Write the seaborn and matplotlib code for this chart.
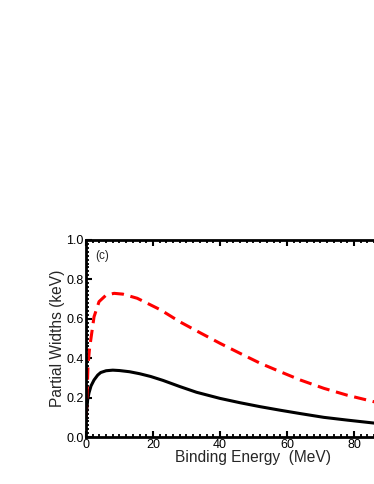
import pandas as pd
import matplotlib.pyplot as plt
import seaborn as sns
from matplotlib.ticker import MultipleLocator, FuncFormatter

# values
x_black = [0, 0.2, 0.5, 0.9, 1.5, 2.4, 3.5, 4.4, 6, 8, 10, 13, 16, 19.3, 23, 28, 33,
           40, 46, 52, 58, 64, 71, 78, 86, 100]
y_black = [0.10, 0.13, 0.19, 0.225, 0.26, 0.29, 0.315, 0.328, 0.337, 0.340, 0.338,
           0.332, 0.322, 0.308, 0.288, 0.257, 0.228, 0.197, 0.175, 0.155, 0.137,
           0.12, 0.101, 0.087, 0.072, 0.052]
x_red = [0, 0.2, 0.6, 1.0, 1.4, 2.4, 3.9, 6, 8.4, 11, 15.3, 22.3, 28, 34, 40, 46,
         52, 58, 64, 71, 78, 86, 100]
y_red = [0.10, 0.155, 0.36, 0.44, 0.49, 0.61, 0.687, 0.72, 0.729, 0.725, 0.704,
         0.645, 0.585, 0.53, 0.476, 0.425, 0.375, 0.332, 0.29, 0.248, 0.213, 0.18,
         0.13]

df = pd.concat([
    pd.DataFrame({'E': x_black, 'W': y_black, 'curve': 'black'}),
    pd.DataFrame({'E': x_red, 'W': y_red, 'curve': 'red'}),
])

sns.set_style('ticks')
plt.rcParams['font.family'] = ['Liberation Sans', 'DejaVu Sans']

fig = plt.figure(figsize=(3.74, 4.84), dpi=100)
ax = fig.add_axes([0.2299, 0.0965, 0.8957, 0.408])

sns.lineplot(data=df, x='E', y='W', hue='curve', style='curve',
             palette={'black': 'black', 'red': '#ff0000'},
             dashes={'black': '', 'red': (4.0, 2.2)},
             estimator=None, sort=False, ax=ax, legend=False)
for line in ax.lines:
    line.set_linewidth(2.2)

ax.set_xlim(0, 100)
ax.set_ylim(0, 1.0)
ax.xaxis.set_major_locator(MultipleLocator(20))
ax.xaxis.set_minor_locator(MultipleLocator(2))
# the axis runs past the right edge; labels beyond the picture are left blank
ax.xaxis.set_major_formatter(FuncFormatter(lambda v, p: f'{v:.0f}' if v < 90 else ''))
ax.yaxis.set_major_locator(MultipleLocator(0.2))
ax.yaxis.set_minor_locator(MultipleLocator(0.02))
ax.yaxis.set_major_formatter(plt.FormatStrFormatter('%.1f'))
ax.tick_params(which='both', direction='in', top=True, right=True,
               colors='black', labelsize=9, pad=1.5)
ax.tick_params(which='major', length=4, width=1.5)
ax.tick_params(which='minor', length=2.5, width=1.3)
for s in ax.spines.values():
    s.set_linewidth(2)
    s.set_color('black')

ax.set_xlabel('Binding Energy  (MeV)', fontsize=11.2, labelpad=-1)
ax.set_ylabel('Partial Widths (keV)', fontsize=11.2, labelpad=1)
ax.text(0.027, 0.95, '(c)', transform=ax.transAxes, fontsize=8.5, va='top')

plt.savefig('out.png', dpi=100)
